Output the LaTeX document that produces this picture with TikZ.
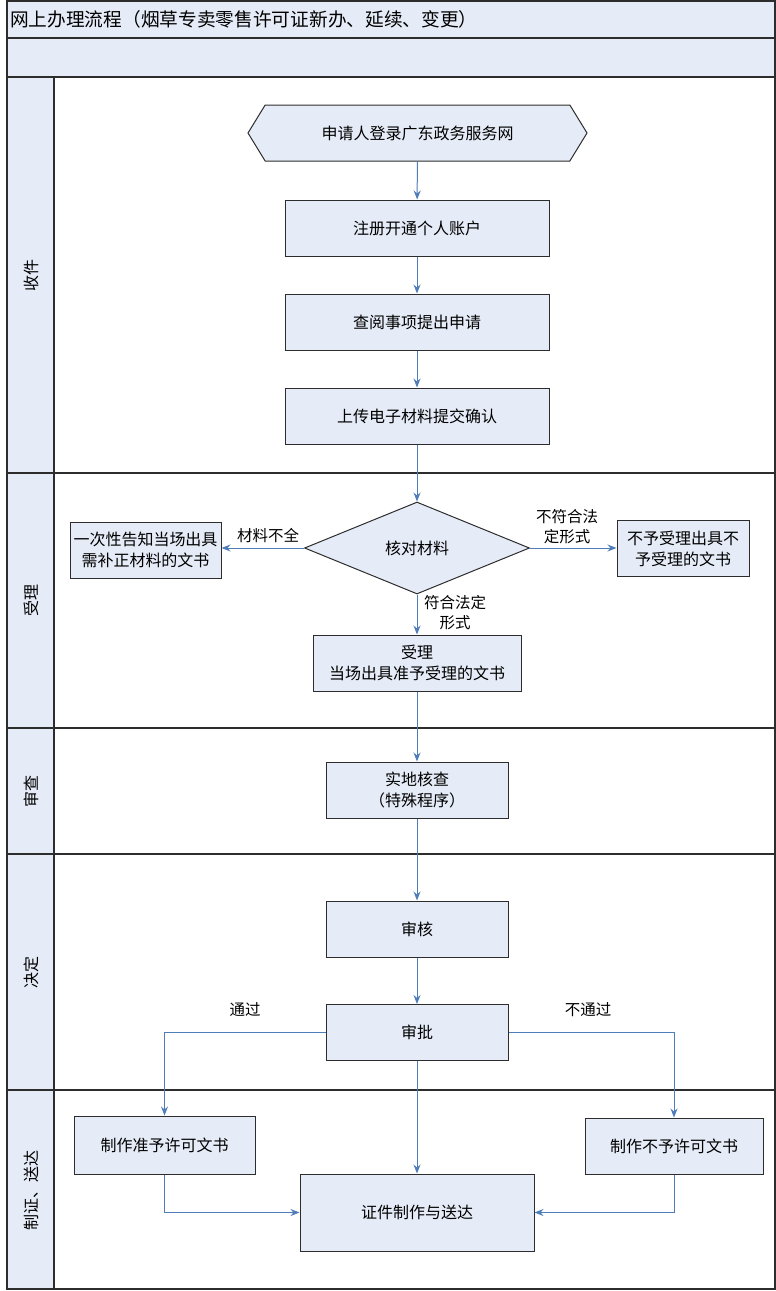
\documentclass[tikz,border=0pt]{standalone}
\usepackage{fontspec}
\setmainfont{Noto Sans CJK SC}
\usetikzlibrary{arrows.meta,shapes.geometric,shapes.symbols,positioning}
\definecolor{lanefill}{RGB}{230,236,247}
\definecolor{boxfill}{RGB}{230,236,247}
\definecolor{frameline}{RGB}{45,45,45}
\definecolor{flowline}{RGB}{79,125,185}
\tikzset{
  box/.style={draw=frameline, fill=boxfill, line width=1pt, inner sep=0pt,
    minimum height=56pt, align=center, font=\fontsize{16}{21}\selectfont},
  decision/.style={diamond, box, aspect=2.4, minimum width=225pt, minimum height=92pt},
  portal/.style={signal, signal to=west and east, signal pointer angle=117, box,
    minimum width=339pt},
  flow/.style={draw=flowline, line width=1pt, -{Stealth[length=9pt,width=7pt]}},
  lbl/.style={font=\fontsize{15.5}{20}\selectfont, align=center, inner sep=0pt},
  lanelabel/.style={rotate=90, font=\fontsize{16}{18}\selectfont, inner sep=0pt},
}
\begin{document}
\begin{tikzpicture}[x=1pt,y=-1pt]
  \useasboundingbox (0,0) rectangle (776,1291);
  \fill[lanefill] (7,1) rectangle (775,77);
  \fill[lanefill] (7,77) rectangle (54,1289);
  \begin{scope}[draw=frameline, line width=1.2pt]
    \draw (7,1) rectangle (775,1289);
    \draw (7,38) -- (775,38);
    \draw (7,77) -- (775,77);
    \draw (54,77) -- (54,1289);
    \foreach \y in {473,728,854,1090}
      \draw (7,\y) -- (775,\y);
  \end{scope}
  \node[anchor=west, inner sep=0pt, font=\fontsize{18.7}{20}\selectfont] (title) at (10,19)
    {网上办理流程（烟草专卖零售许可证新办、延续、变更）};
  \node[lanelabel] (lane1) at (31,275) {收件};
  \node[lanelabel] (lane2) at (31,600) {受理};
  \node[lanelabel] (lane3) at (31,791) {审查};
  \node[lanelabel] (lane4) at (31,972) {决定};
  \node[lanelabel] (lane5) at (31,1190) {制证、送达};

  \node[portal] (login) at (417.5,133) {申请人登录广东政务服务网};
  \node[box, minimum width=264pt] (register) at (417,228) {注册开通个人账户};
  \node[box, minimum width=264pt] (browse) at (417,322) {查阅事项提出申请};
  \node[box, minimum width=264pt] (upload) at (417,416) {上传电子材料提交确认};
  \node[decision] (check) at (417,548) {核对材料};
  \node[box, minimum width=151pt] (notice) at (145.5,550) {一次性告知当场出具\\需补正材料的文书};
  \node[box, minimum width=132pt] (reject) at (683,548.5) {不予受理出具不\\予受理的文书};
  \node[box, minimum width=208pt] (accept) at (417,663) {受理\\当场出具准予受理的文书};
  \node[box, minimum width=182pt] (inspect) at (417,790) {实地核查\\（特殊程序）};
  \node[box, minimum width=182pt] (review) at (417,929) {审核};
  \node[box, minimum width=182pt] (approve) at (417,1032.5) {审批};
  \node[box, minimum width=181pt, minimum height=58pt] (grant) at (164.5,1145) {制作准予许可文书};
  \node[box, minimum width=178pt] (deny) at (674,1146) {制作不予许可文书};
  \node[box, minimum width=234pt, minimum height=77pt] (deliver) at (417,1212.5) {证件制作与送达};

  \node[lbl] (lblshort) at (268,536) {材料不全};
  \node[lbl] (lblinvalid) at (567,527) {不符合法\\定形式};
  \node[lbl] (lblvalid) at (455,613) {符合法定\\形式};
  \node[lbl] (lblpass) at (245,1010) {通过};
  \node[lbl] (lblfail) at (588,1010) {不通过};

  \draw[flow] (login) -- (register);
  \draw[flow] (register) -- (browse);
  \draw[flow] (browse) -- (upload);
  \draw[flow] (upload) -- (check);
  \draw[flow] (check.west) -- (check.west -| notice.east);
  \draw[flow] (check.east) -- (check.east -| reject.west);
  \draw[flow] (check.south) -- (accept.north);
  \draw[flow] (accept) -- (inspect);
  \draw[flow] (inspect) -- (review);
  \draw[flow] (review) -- (approve);
  \draw[flow] (approve.west) -| (grant.north);
  \draw[flow] (approve.east) -| (deny.north);
  \draw[flow] (approve.south) -- (deliver.north);
  \draw[flow] (grant.south) |- (deliver.west);
  \draw[flow] (deny.south) |- (deliver.east);
\end{tikzpicture}
\end{document}
